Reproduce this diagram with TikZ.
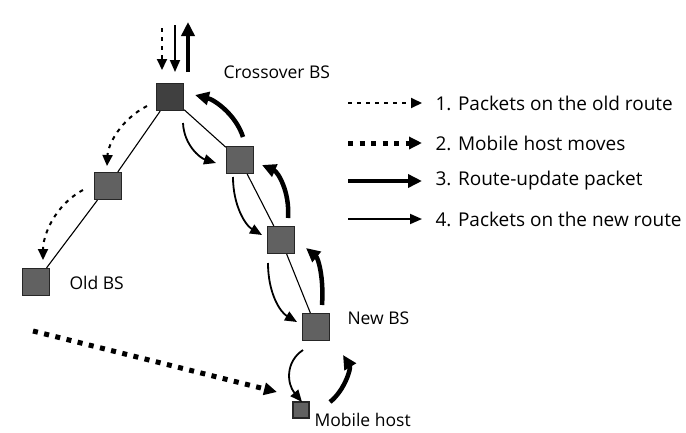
\documentclass[tikz,border=0pt]{standalone}
\usepackage{fontspec}
\setmainfont{Open Sans}
\usetikzlibrary{calc, arrows.meta}

\begin{document}
\begin{tikzpicture}[x=1pt, y=-1pt,
    bs/.style={draw=black!85, fill=black!62, line width=1.2pt,
        minimum size=27pt, inner sep=0pt},
    lbl/.style={anchor=west, font=\fontsize{17.5}{20}\selectfont},
    leg/.style={anchor=west, font=\fontsize{19}{22}\selectfont},
    link/.style={line width=1.1pt},
    oldroute/.style={line width=2pt, dash pattern=on 4pt off 5pt,
        -{Triangle[length=11pt, width=10pt]}},
    moves/.style={line width=5pt, dash pattern=on 5pt off 6.5pt,
        -{Triangle[length=13pt, width=12pt]}},
    update/.style={line width=4.5pt, -{Triangle[length=14pt, width=13pt]}},
    newroute/.style={line width=1.8pt, -{Triangle[length=12pt, width=10pt]}}]

    \useasboundingbox (0,0) rectangle (686,432);

    % base stations
    \node[bs, fill=black!75] (xbs) at (170,97) {};
    \node[bs] (n1) at (108,186) {};
    \node[bs] (oldbs) at (36,282) {};
    \node[bs] (n2) at (240,160) {};
    \node[bs] (n3) at (281,240) {};
    \node[bs] (nbs) at (316,327) {};
    \node[bs, minimum size=16pt] (mh) at (301,410) {};

    \draw[link] (xbs) -- (n1) -- (oldbs);
    \draw[link] (xbs) -- (n2) -- (n3) -- (nbs);

    \node[lbl] (lxbs) at (220,72) {Crossover BS};
    \node[lbl] (loldbs) at (66,283) {Old BS};
    \node[lbl] (lnbs) at (344,318) {New BS};
    \node[lbl] (lmh) at (311,420) {Mobile host};

    % traffic arriving at the crossover
    \coordinate (in1) at ($(xbs)+(-8,-69)$);
    \coordinate (in2) at ($(xbs)+(5,-72)$);
    \coordinate (out3) at ($(xbs)+(18,-75)$);
    \draw[oldroute] (in1) -- ($(in1)+(0,42)$);
    \draw[newroute] (in2) -- ($(in2)+(0,47)$);
    \draw[update] ($(out3)+(0,50)$) -- (out3);

    % old route
    \draw[oldroute] ($(xbs)+(-23,9)$) .. controls ($(xbs)+(-50,23)$)
        and ($(n1)+(0,-41)$) .. ($(n1)+(-1,-20)$);
    \draw[oldroute] ($(n1)+(-25,4)$) .. controls ($(n1)+(-53,19)$)
        and ($(oldbs)+(7,-47)$) .. ($(oldbs)+(7,-22)$);

    % mobile host moves
    \draw[moves] ($(oldbs)+(-3,49)$) -- ($(mh)+(-24,-18)$);

    % new route
    \draw[newroute] ($(xbs)+(13,26)$) .. controls ($(xbs)+(14,48)$)
        and ($(n2)+(-40,-2)$) .. ($(n2)+(-24,3)$);
    \draw[newroute] ($(n2)+(-7,17)$) .. controls ($(n2)+(-7,45)$)
        and ($(n3)+(-36,-15)$) .. ($(n3)+(-19,-5)$);
    \draw[newroute] ($(n3)+(-13,23)$) .. controls ($(n3)+(-13,53)$)
        and ($(nbs)+(-36,-15)$) .. ($(nbs)+(-19,-5)$);
    \draw[newroute] ($(nbs)+(-13,23)$) .. controls ($(nbs)+(-31,35)$)
        and ($(mh)+(-14,-26)$) .. ($(mh)+(1,-8)$);

    % route update
    \draw[update] ($(mh)+(29,-8)$) .. controls ($(mh)+(44,-20)$)
        and ($(nbs)+(35,41)$) .. ($(nbs)+(27,28)$);
    \draw[update] ($(nbs)+(6,-22)$) .. controls ($(nbs)+(8,-50)$)
        and ($(n3)+(37,18)$) .. ($(n3)+(25,8)$);
    \draw[update] ($(n3)+(7,-22)$) .. controls ($(n3)+(9,-48)$)
        and ($(n2)+(38,12)$) .. ($(n2)+(22,5)$);
    \draw[update] ($(n2)+(3,-23)$) .. controls ($(n2)+(-4,-45)$)
        and ($(xbs)+(45,3)$) .. ($(xbs)+(25,-2)$);

    % legend
    \foreach \y/\s/\t in {103/oldroute/1. Packets on the old route,
                          143/moves/2. Mobile host moves,
                          181/update/3. Route-update packet,
                          219/newroute/4. Packets on the new route}{
        \draw[\s] (348,\y) -- (422,\y);
        \node[leg] at (432,\y) {\t};
    }
\end{tikzpicture}
\end{document}
